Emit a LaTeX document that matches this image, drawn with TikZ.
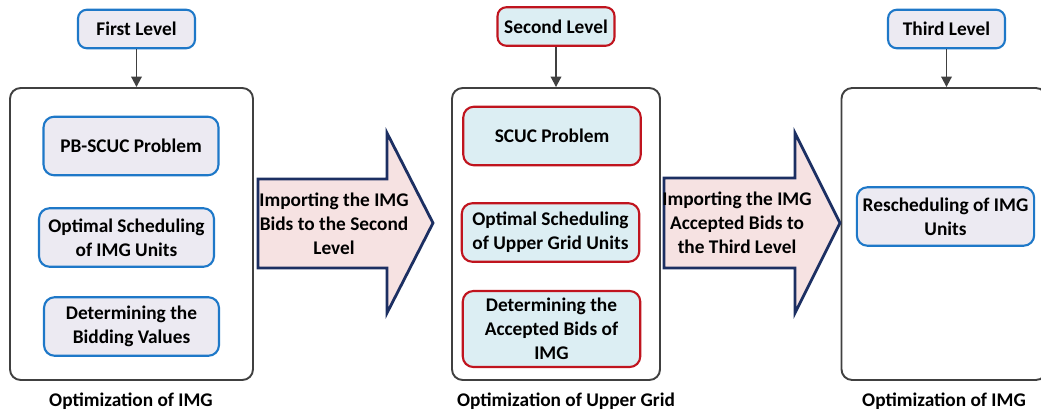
\documentclass[tikz,border=0pt]{standalone}
\usepackage{fontspec}
\setmainfont{Carlito}
\usetikzlibrary{positioning, arrows.meta, calc}

\definecolor{imgblue}{HTML}{1E78C8}
\definecolor{imgfill}{HTML}{ECEAF2}
\definecolor{gridred}{HTML}{C0141E}
\definecolor{gridfill}{HTML}{DCEEF3}
\definecolor{navy}{HTML}{1C2F62}
\definecolor{bidpink}{HTML}{F6E2E2}
\definecolor{frame}{HTML}{404040}

\begin{document}
\begin{tikzpicture}[
			x=0.02cm, y=-0.02cm,
			font=\fontsize{11}{13.6}\selectfont\bfseries,
			panel/.style={draw=frame, line width=1.1pt, rounded corners=6pt, fill=white, minimum height=5.84cm},
			title/.style={draw=#1, line width=1.2pt, rounded corners=5pt, minimum width=2.34cm, minimum height=0.77cm},
			imgbox/.style={draw=imgblue, fill=imgfill, line width=1.2pt, rounded corners=6pt, align=center, minimum width=3.5cm, minimum height=1.17cm},
			gridbox/.style={draw=gridred, fill=gridfill, line width=1.2pt, rounded corners=6pt, align=center, minimum width=3.55cm, minimum height=1.17cm},
			bid/.style={draw=navy, fill=bidpink, line width=1.6pt, line join=miter},
			arrow/.style={-{Triangle[length=6pt, width=6pt]}, draw=frame, line width=1.1pt}
			]
			\useasboundingbox (0,0) rectangle (1041,412);
			
			% First level
			\node[title=imgblue, fill=imgfill] (t1) at (136.5,29) {First Level};
			\node[panel, minimum width=4.86cm] (p1) at (131.5,234) {};
			\node[imgbox] (pb) at (131,146) {PB-SCUC Problem};
			\node[imgbox] (optA) at (126.5,237.5) {Optimal Scheduling\\of IMG Units};
			\node[imgbox] (detA) at (131.5,326.5) {Determining the\\Bidding Values};
			\node (c1) at (131,401) {Optimization of IMG};
			
			% Second level
			\node[title=gridred, fill=gridfill] (t2) at (556,26.5) {Second Level};
			\node[panel, minimum width=4.16cm] (p2) at (556,234) {};
			\node[gridbox] (scuc) at (552,136) {SCUC Problem};
			\node[gridbox] (optB) at (550.5,232.5) {Optimal Scheduling\\of Upper Grid Units};
			\node[gridbox, minimum height=1.52cm] (detB) at (551.5,329) {Determining the\\Accepted Bids of\\IMG};
			\node (c2) at (566,401) {Optimization of Upper Grid};
			
			% Third level
			\node[title=imgblue, fill=imgfill] (t3) at (946.5,29) {Third Level};
			\node[panel, minimum width=4.1cm] (p3) at (944,234) {};
			\node[imgbox] (resch) at (945.5,216.5) {Rescheduling of IMG\\Units};
			\node (c3) at (944,401) {Optimization of IMG};
			
			% Level arrows
			\draw[arrow] (t1.south) -- (t1.south |- p1.north);
			\draw[arrow] (t2.south) -- (t2.south |- p2.north);
			\draw[arrow] (t3.south) -- (t3.south |- p3.north);
			
			% Bid transfer arrows
			\draw[bid] (258,179) -- (387,179) -- (387,133) -- (433,223) -- (387,313) -- (387,268) -- (258,268) -- cycle;
			\node[align=center] (imp1) at (334,224) {Importing the IMG\\Bids to the Second\\Level};
			\draw[bid] (664,178) -- (795,178) -- (795,133) -- (840,223) -- (795,313) -- (795,268) -- (664,268) -- cycle;
			\node[align=center] (imp2) at (737,223) {Importing the IMG\\Accepted Bids to\\the Third Level};
			
		\end{tikzpicture}
\end{document}
